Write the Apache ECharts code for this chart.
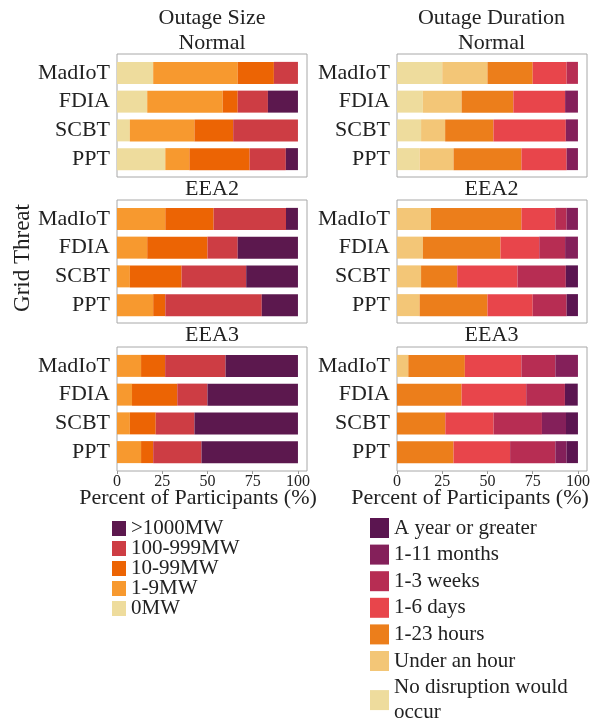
<!DOCTYPE html>
<html><head><meta charset="utf-8">
<script src="https://cdn.jsdelivr.net/npm/echarts@6/dist/echarts.min.js"></script>
<style>html,body{margin:0;padding:0;background:#fff}#c{width:600px;height:724px}</style>
</head><body><div id="c"></div>
<script>
// ---- data ----
const threats = ['MadIoT', 'FDIA', 'SCBT', 'PPT'];
const sizeLevels = ['0MW', '1-9MW', '10-99MW', '100-999MW', '>1000MW'];
const durationLevels = ['No disruption would occur', 'Under an hour', '1-23 hours', '1-6 days', '1-3 weeks', '1-11 months', 'A year or greater'];
const xTicks = [0, 25, 50, 75, 100];
const rowTitles = ['Normal', 'EEA2', 'EEA3'];
const colTitles = ['Outage Size', 'Outage Duration'];

// rows = threats, columns = levels (percent of participants)
const sizeNormal = [
  [20.0, 46.7, 20.0, 13.3, 0],
  [16.7, 41.7, 8.3, 16.7, 16.6],
  [7.1, 35.7, 21.4, 35.8, 0],
  [26.7, 13.3, 33.3, 20.0, 6.7]
];
const sizeEEA2 = [
  [0, 26.7, 26.7, 40.0, 6.6],
  [0, 16.7, 33.3, 16.7, 33.3],
  [0, 7.1, 28.6, 35.7, 28.6],
  [0, 20.0, 6.7, 53.3, 20.0]
];
const sizeEEA3 = [
  [0, 13.3, 13.3, 33.4, 40.0],
  [0, 8.3, 25.0, 16.7, 50.0],
  [0, 7.1, 14.3, 21.4, 57.2],
  [0, 13.3, 6.7, 26.7, 53.3]
];
const durationNormal = [
  [25.0, 25.0, 25.0, 18.75, 6.25, 0, 0],
  [14.3, 21.4, 28.6, 28.6, 0, 7.1, 0],
  [13.3, 13.3, 26.7, 40.0, 0, 6.7, 0],
  [12.5, 18.75, 37.5, 25.0, 0, 6.25, 0]
];
const durationEEA2 = [
  [0, 18.75, 50.0, 18.75, 6.25, 6.25, 0],
  [0, 14.3, 42.9, 21.4, 14.3, 7.1, 0],
  [0, 13.3, 20.0, 33.3, 26.7, 0, 6.7],
  [0, 12.5, 37.5, 25.0, 18.75, 0, 6.25]
];
const durationEEA3 = [
  [0, 6.25, 31.25, 31.25, 18.75, 12.5, 0],
  [0, 0, 35.7, 35.7, 21.4, 0, 7.1],
  [0, 0, 26.7, 26.7, 26.7, 13.3, 6.6],
  [0, 0, 31.25, 31.25, 25.0, 6.25, 6.25]
];

// ---- styles ----
const sizeColors = ['#eedc9d', '#f7992f', '#ec6404', '#cd3d44', '#5c184e'];
const durationColors = ['#eedc9d', '#f3c677', '#ec7e1b', '#e8454b', '#b72d53', '#84205a', '#5b1550'];
const FONT = '"Liberation Serif", "DejaVu Serif", serif';
const TXT = '#222222';

const panels = [
  [sizeNormal, durationNormal],
  [sizeEEA2, durationEEA2],
  [sizeEEA3, durationEEA3]
];
const colLeft = [117, 397];
const frameW = 190;
const rowTop = [54, 200, 347];
const frameH = [123, 123, 124];
const innerOff = 4.5, innerH = 115;

const grids = [], xAxes = [], yAxes = [], series = [];
for (let r = 0; r < 3; r++) {
  for (let c = 0; c < 2; c++) {
    const outerIdx = grids.length;
    grids.push({left: colLeft[c], top: rowTop[r], width: frameW, height: frameH[r],
      show: true, borderColor: '#a8a8a8', borderWidth: 1, backgroundColor: 'transparent',
      containLabel: false, outerBoundsMode: 'none'});
    const innerIdx = grids.length;
    grids.push({left: colLeft[c], top: rowTop[r] + innerOff, width: frameW, height: innerH,
      containLabel: false, outerBoundsMode: 'none'});
    if (r === 2) {
      xAxes.push({type: 'value', gridIndex: outerIdx, min: 0, max: 105,
        axisLine: {show: false}, splitLine: {show: false},
        axisTick: {show: true, length: 3, customValues: xTicks, lineStyle: {color: '#999'}},
        axisLabel: {customValues: xTicks, fontSize: 16, fontFamily: FONT, color: TXT, margin: 3}});
    } else {
      xAxes.push({type: 'value', gridIndex: outerIdx, min: 0, max: 105, show: false});
    }
    yAxes.push({type: 'value', gridIndex: outerIdx, min: 0, max: 1, show: false});
    xAxes.push({type: 'value', gridIndex: innerIdx, min: 0, max: 105, show: false});
    const yInner = {type: 'category', gridIndex: innerIdx, data: threats, inverse: true,
      axisLine: {show: false}, axisTick: {show: false}, splitLine: {show: false},
      axisLabel: {fontSize: 22, fontFamily: FONT, color: TXT, margin: 7}};
    if (r === 1 && c === 0) {
      yInner.name = 'Grid Threat';
      yInner.nameLocation = 'middle';
      yInner.nameRotate = 90;
      yInner.nameGap = 81;
      yInner.nameTextStyle = {fontSize: 23, fontFamily: FONT, color: TXT, padding: [0, 0, 0, 8]};
    }
    yAxes.push(yInner);
    const levels = c === 0 ? sizeLevels : durationLevels;
    const colors = c === 0 ? sizeColors : durationColors;
    const data = panels[r][c];
    levels.forEach((lv, k) => {
      series.push({type: 'bar', name: lv, stack: 'p' + r + c,
        xAxisIndex: innerIdx, yAxisIndex: innerIdx, barWidth: 22,
        itemStyle: {color: colors[k]}, emphasis: {disabled: true},
        data: data.map(row => row[k])});
    });
  }
}

const titleStyle = {fontSize: 22, fontFamily: FONT, color: TXT, fontWeight: 'normal'};
const titles = [];
const cx = [212, 491.5];
const topsRow = [32, 178, 324.5];
for (let c = 0; c < 2; c++) {
  titles.push({text: colTitles[c], left: cx[c], top: 7.5, textAlign: 'center', padding: 0, textStyle: titleStyle});
  for (let r = 0; r < 3; r++) {
    titles.push({text: rowTitles[r], left: cx[c], top: topsRow[r], textAlign: 'center', padding: 0, textStyle: titleStyle});
  }
}
titles.push({text: 'Percent of Participants (%)', left: 198, top: 487.5, textAlign: 'center', padding: 0, textStyle: titleStyle});
titles.push({text: 'Percent of Participants (%)', left: 470, top: 487.5, textAlign: 'center', padding: 0, textStyle: titleStyle});

const option = {
  animation: false,
  backgroundColor: '#ffffff',
  title: titles,
  tooltip: {show: false},
  legend: [
    {type: 'plain', orient: 'vertical', left: 112, top: 518, height: 200, padding: 0, itemGap: -1,
      itemWidth: 14, itemHeight: 15, icon: 'rect', selectedMode: false,
      itemStyle: {borderWidth: 0},
      textStyle: {fontSize: 21, fontFamily: FONT, color: TXT, lineHeight: 19},
      data: sizeLevels.slice().reverse()},
    {type: 'plain', orient: 'vertical', left: 370, top: 515.5, height: 260, padding: 0, itemGap: 1.6,
      itemWidth: 19, itemHeight: 20, icon: 'rect', selectedMode: false,
      itemStyle: {borderWidth: 0},
      textStyle: {fontSize: 21, fontFamily: FONT, color: TXT, lineHeight: 25},
      formatter: name => name === 'No disruption would occur' ? 'No disruption would\noccur' : name,
      data: durationLevels.slice().reverse()}
  ],
  grid: grids,
  xAxis: xAxes,
  yAxis: yAxes,
  series: series
};
const chart = echarts.init(document.getElementById('c'), null, {renderer: 'canvas'});
chart.setOption(option);
</script>
</body></html>
